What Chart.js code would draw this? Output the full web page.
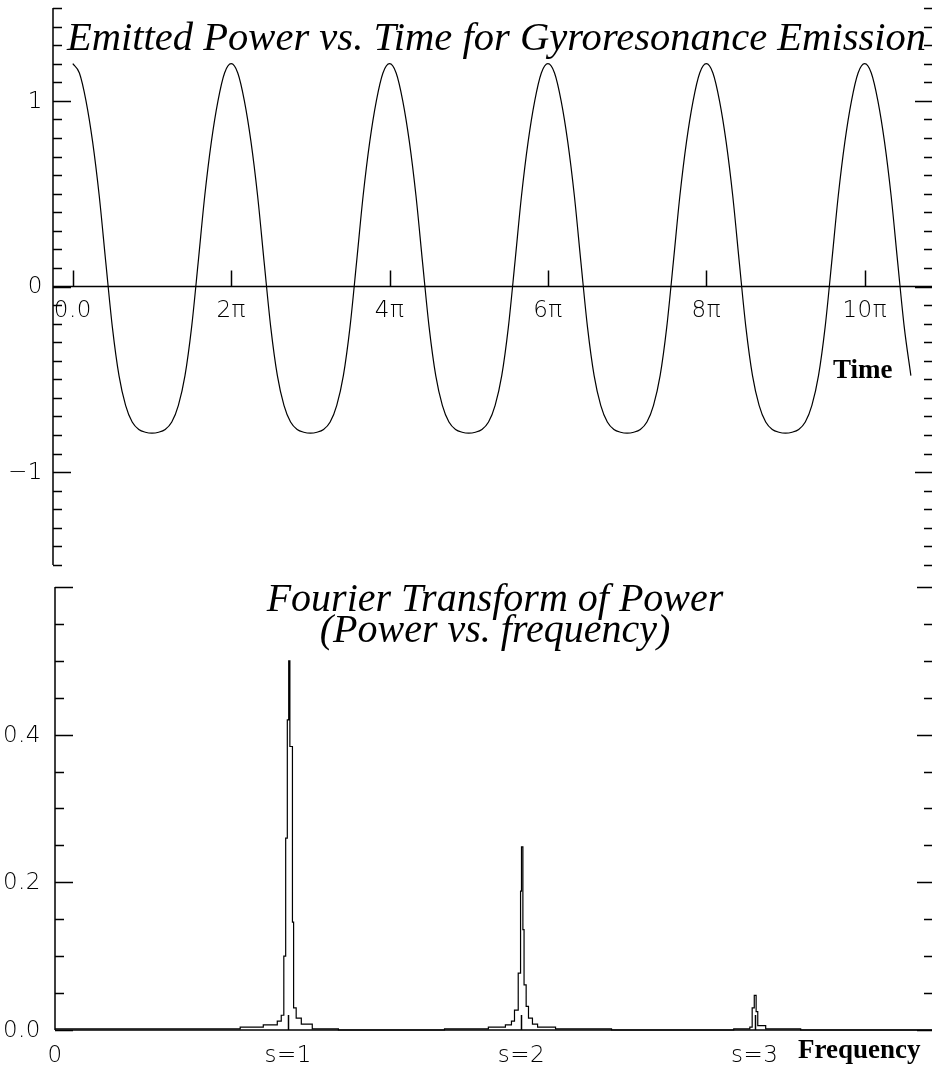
<!DOCTYPE html>
<html>
<head>
<meta charset="utf-8">
<script src="https://cdn.jsdelivr.net/npm/chart.js@4.4.1/dist/chart.umd.min.js"></script>
<style>
  body { margin: 0; background: #fff; }
  .panel { position: absolute; left: 0; }
</style>
</head>
<body>
<div class="panel" style="top:0"><canvas id="power-chart" width="932" height="575"></canvas></div>
<div class="panel" style="top:575px"><canvas id="fourier-chart" width="932" height="497"></canvas></div>
<script>
// ---- top panel: emitted power, time in units of pi, one sample every pi/12
const timeStep = 1 / 12;
const powerValues = [
  1.20, 1.15, 1.00, 0.78, 0.49, 0.13, -0.22, -0.48, -0.64, -0.73, -0.77, -0.785, -0.79, -0.785, -0.77, -0.73, -0.64, -0.48, -0.22, 0.13, 0.49, 0.78, 1.00, 1.15,
  1.20, 1.15, 1.00, 0.78, 0.49, 0.13, -0.22, -0.48, -0.64, -0.73, -0.77, -0.785, -0.79, -0.785, -0.77, -0.73, -0.64, -0.48, -0.22, 0.13, 0.49, 0.78, 1.00, 1.15,
  1.20, 1.15, 1.00, 0.78, 0.49, 0.13, -0.22, -0.48, -0.64, -0.73, -0.77, -0.785, -0.79, -0.785, -0.77, -0.73, -0.64, -0.48, -0.22, 0.13, 0.49, 0.78, 1.00, 1.15,
  1.20, 1.15, 1.00, 0.78, 0.49, 0.13, -0.22, -0.48, -0.64, -0.73, -0.77, -0.785, -0.79, -0.785, -0.77, -0.73, -0.64, -0.48, -0.22, 0.13, 0.49, 0.78, 1.00, 1.15,
  1.20, 1.15, 1.00, 0.78, 0.49, 0.13, -0.22, -0.48, -0.64, -0.73, -0.77, -0.785, -0.79, -0.785, -0.77, -0.73, -0.64, -0.48, -0.22, 0.13, 0.49, 0.78, 1.00, 1.15,
  1.20, 1.15, 1.00, 0.78, 0.49, 0.13, -0.22, -0.48
];
const timeTickValues = [0, 2, 4, 6, 8, 10];
const timeTickLabels = ["0.0", "2π", "4π", "6π", "8π", "10π"];
const powerTickValues = [-1, 0, 1];
const powerTickLabels = ["−1", "0", "1"];

// ---- bottom panel: power spectrum, drawn as steps (value holds until next frequency)
const freqValues = [
  0.000, 0.794, 0.893, 0.953, 0.970, 0.981, 0.989, 0.996, 1.002, 1.007, 1.018, 1.023, 1.034, 1.056, 1.103, 1.215,
  1.670, 1.858, 1.931, 1.957, 1.970, 1.986, 1.996, 2.000, 2.006, 2.011, 2.020, 2.030, 2.047, 2.069, 2.146, 2.386,
  2.910, 2.979, 2.989, 2.998, 3.006, 3.013, 3.047, 3.197, 3.770
];
const spectrumValues = [
  0.0015, 0.004, 0.007, 0.012, 0.020, 0.100, 0.260, 0.420, 0.500, 0.384, 0.146, 0.030, 0.016, 0.008, 0.0015, 0,
  0.0015, 0.004, 0.007, 0.012, 0.027, 0.077, 0.188, 0.248, 0.136, 0.061, 0.032, 0.016, 0.008, 0.004, 0.0015, 0,
  0.0015, 0.004, 0.030, 0.047, 0.025, 0.006, 0.0015, 0, 0
];
const freqTickValues = [0, 1, 2, 3];
const freqTickLabels = ["0", "s=1", "s=2", "s=3"];
const spectrumTickValues = [0, 0.2, 0.4, 0.6];
const spectrumTickLabels = ["0.0", "0.2", "0.4", ""];

const tickFont = '300 23px "DejaVu Sans"';

// IDL-style frame: left axis, zero line, inward ticks on both sides, texts
function idlFrame(cfg) {
  return {
    id: 'idlFrame',
    afterDatasetsDraw(chart) {
      const { ctx, chartArea: a, scales: { x, y } } = chart;
      const y0 = y.getPixelForValue(cfg.xAxisAt);
      ctx.save();
      ctx.strokeStyle = '#000';
      ctx.lineWidth = 1.5;
      ctx.beginPath();
      ctx.moveTo(a.left, a.top); ctx.lineTo(a.left, a.bottom);
      ctx.moveTo(a.left, y0); ctx.lineTo(a.right, y0);

      const n = Math.round((y.max - y.min) / cfg.minorStep);
      for (let k = 0; k <= n; k++) {
        const v = y.min + k * cfg.minorStep;
        const isMajor = cfg.yTicks.some(t => Math.abs(t - v) < 1e-6);
        const py = Math.round(y.getPixelForValue(v)) + 0.5;
        ctx.moveTo(a.left, py); ctx.lineTo(a.left + (isMajor ? 18 : 9), py);
        ctx.moveTo(a.right, py); ctx.lineTo(a.right - (isMajor ? cfg.rightMajor : cfg.rightMinor), py);
      }
      cfg.xTicks.forEach(v => {
        if (v <= x.min) return;
        const px = Math.round(x.getPixelForValue(v)) + 0.5;
        ctx.moveTo(px, y0); ctx.lineTo(px, y0 - cfg.xTickLen);
      });
      ctx.stroke();

      ctx.fillStyle = '#000';
      ctx.font = tickFont;
      ctx.letterSpacing = '0.5px';
      ctx.textAlign = 'right';
      ctx.textBaseline = 'middle';
      cfg.yTicks.forEach((v, i) => {
        ctx.fillText(cfg.yLabels[i], a.left - cfg.yLabelGap, y.getPixelForValue(v) + 1);
      });
      ctx.textAlign = 'center';
      ctx.textBaseline = 'top';
      cfg.xTicks.forEach((v, i) => {
        ctx.fillText(cfg.xLabels[i], x.getPixelForValue(v), y0 + cfg.xLabelGap);
      });

      ctx.letterSpacing = '0px';
      ctx.textBaseline = 'alphabetic';
      cfg.texts.forEach(t => {
        ctx.font = t.font;
        ctx.textAlign = t.align;
        ctx.fillText(t.text, t.x, t.y);
      });
      ctx.restore();
    }
  };
}

const baseOptions = {
  responsive: false,
  animation: false,
  devicePixelRatio: 1,
  events: [],
  plugins: { legend: { display: false }, tooltip: { enabled: false } }
};

new Chart(document.getElementById('power-chart'), {
  type: 'line',
  data: {
    datasets: [{
      data: powerValues.map((v, i) => ({ x: i * timeStep, y: v })),
      borderColor: '#000',
      borderWidth: 1.2,
      pointRadius: 0,
      cubicInterpolationMode: 'monotone',
      fill: false,
      clip: false
    }]
  },
  options: {
    ...baseOptions,
    layout: { padding: { left: 53, right: 0, top: 8, bottom: 10 } },
    scales: {
      x: { type: 'linear', display: false, min: -0.25, max: 10.85 },
      y: { type: 'linear', display: false, min: -1.5, max: 1.5 }
    }
  },
  plugins: [idlFrame({
    xAxisAt: 0, minorStep: 0.1, rightMajor: 17, rightMinor: 8, xTickLen: 16,
    yTicks: powerTickValues, yLabels: powerTickLabels, yLabelGap: 10,
    xTicks: timeTickValues, xLabels: timeTickLabels, xLabelGap: 13,
    texts: [
      { text: 'Emitted Power vs. Time for Gyroresonance Emission', font: 'italic 40.6px "Liberation Serif"', align: 'center', x: 496.5, y: 50 },
      { text: 'Time', font: 'bold 27px "Liberation Serif"', align: 'left', x: 833, y: 378 }
    ]
  })]
});

new Chart(document.getElementById('fourier-chart'), {
  type: 'line',
  data: {
    datasets: [{
      data: freqValues.map((s, i) => ({ x: s, y: spectrumValues[i] })),
      borderColor: '#000',
      borderWidth: 1.2,
      pointRadius: 0,
      stepped: 'before',
      fill: false,
      clip: 4
    }]
  },
  options: {
    ...baseOptions,
    layout: { padding: { left: 55, right: 0, top: 12, bottom: 42 } },
    scales: {
      x: { type: 'linear', display: false, min: 0, max: 3.76 },
      y: { type: 'linear', display: false, min: 0, max: 0.6 }
    }
  },
  plugins: [idlFrame({
    xAxisAt: 0, minorStep: 0.05, rightMajor: 15, rightMinor: 8, xTickLen: 15,
    yTicks: spectrumTickValues, yLabels: spectrumTickLabels, yLabelGap: 14,
    xTicks: freqTickValues, xLabels: freqTickLabels, xLabelGap: 15,
    texts: [
      { text: 'Fourier Transform of Power', font: 'italic 40px "Liberation Serif"', align: 'center', x: 495, y: 36 },
      { text: '(Power vs. frequency)', font: 'italic 40px "Liberation Serif"', align: 'center', x: 495, y: 67 },
      { text: 'Frequency', font: 'bold 27px "Liberation Serif"', align: 'left', x: 798, y: 483 }
    ]
  })]
});
</script>
</body>
</html>
